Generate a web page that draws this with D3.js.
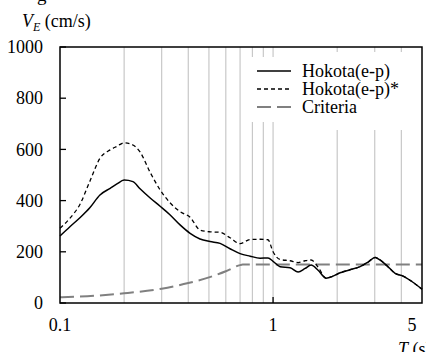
<!DOCTYPE html>
<html><head><meta charset="utf-8">
<script src="https://cdn.jsdelivr.net/npm/d3@7"></script>
<style>body{margin:0;background:#fff}svg{display:block}text{font-family:"Liberation Serif","Times New Roman",serif;fill:#000}</style>
</head><body>
<svg id="c" width="426" height="352"></svg>
<script>
// ---- data ----
const periods = [0.1,0.111,0.124,0.138,0.154,0.172,0.185,0.2,0.22,0.2375,0.265,0.295,0.328,0.366,0.408,0.454,0.506,0.564,0.628,0.70,0.78,0.869,0.947,1.0,1.079,1.202,1.311,1.414,1.508,1.627,1.774,1.913,2.063,2.299,2.562,2.793,3.012,3.179,3.429,3.739,4.077,4.495,5.0];
const hokota = [262,297,333,372,422,448,465,480,474,446,410,378,345,305,272,250,240,233,212,193,183,175,176,163,142,138,121,135,148,128,97,105,118,130,142,160,178,168,145,116,105,83,54];
const hokotaStar = [292,330,385,475,565,598,612,626,617,590,510,442,392,357,335,285,278,276,255,232,248,249,247,200,170,165,158,165,168,140,97,105,118,130,142,160,178,168,145,116,105,83,54];
const critT = [0.1,0.15,0.2,0.3,0.4,0.5,0.6,0.7,0.72,5.0];
const critV = [22,29,38,56,78,100,124,148,150,150];
const yTicks = [0,200,400,600,800,1000];
const xLabels = [{t:0.1,s:"0.1"},{t:1,s:"1"},{t:5,s:"5"}];
const gridT = [0.2,0.3,0.4,0.5,0.6,0.7,0.8,0.9,1,2,3,4];
const legendItems = [{name:"Hokota(e-p)",kind:"solid"},{name:"Hokota(e-p)*",kind:"dash"},{name:"Criteria",kind:"crit"}];

// ---- layout ----
const L=60,R=422,T=47,B=303;
const svg=d3.select("#c");
const x=d3.scaleLog().domain([0.1,5]).range([L,R]);
const y=d3.scaleLinear().domain([0,1000]).range([B,T]);

// partial caption at top
svg.append("text").attr("x",37).attr("y",1).attr("font-size",19).text("g");

// gridlines
svg.append("g").selectAll("line").data(gridT).join("line")
  .attr("x1",d=>x(d)).attr("x2",d=>x(d)).attr("y1",T).attr("y2",B)
  .attr("stroke","#c8c8c8").attr("stroke-width",1.2);

// legend background
svg.append("rect").attr("x",248).attr("y",57).attr("width",172).attr("height",65).attr("fill","#fff");
svg.append("rect").attr("x",330).attr("y",52).attr("width",90).attr("height",78).attr("fill","#fff");

// curves
const line=d3.line().x(d=>x(d[0])).y(d=>y(d[1])).curve(d3.curveMonotoneX);
svg.append("path").datum(critT.map((t,i)=>[t,critV[i]])).attr("d",line)
  .attr("fill","none").attr("stroke","#808080").attr("stroke-width",2).attr("stroke-dasharray","14,6");
svg.append("path").datum(periods.map((t,i)=>[t,hokotaStar[i]])).attr("d",line)
  .attr("fill","none").attr("stroke","#000").attr("stroke-width",1.3).attr("stroke-dasharray","4,3");
svg.append("path").datum(periods.map((t,i)=>[t,hokota[i]])).attr("d",line)
  .attr("fill","none").attr("stroke","#000").attr("stroke-width",1.5);

// frame
svg.append("rect").attr("x",L).attr("y",T).attr("width",R-L).attr("height",B-T)
  .attr("fill","none").attr("stroke","#000").attr("stroke-width",1.5);

// y axis ticks + labels
const ya=svg.append("g");
ya.selectAll("line").data(yTicks).join("line")
  .attr("x1",L).attr("x2",L+6).attr("y1",d=>y(d)).attr("y2",d=>y(d)).attr("stroke","#000").attr("stroke-width",1.3);
ya.selectAll("text").data(yTicks).join("text")
  .attr("x",43).attr("y",d=>y(d)).attr("dy","0.34em").attr("text-anchor","end").attr("font-size",18).text(d=>d);

// x major tick at 1
svg.append("line").attr("x1",x(1)).attr("x2",x(1)).attr("y1",B).attr("y2",B-6).attr("stroke","#000").attr("stroke-width",1.3);
svg.append("g").selectAll("text").data(xLabels).join("text")
  .attr("x",d=>d.t===5?412:x(d.t)).attr("y",331).attr("text-anchor","middle").attr("font-size",18).text(d=>d.s);

// axis titles
const yt=svg.append("text").attr("x",22).attr("y",27).attr("font-size",18);
yt.append("tspan").attr("font-style","italic").text("V");
yt.append("tspan").attr("font-style","italic").attr("font-size",12).attr("dy",4).text("E");
yt.append("tspan").attr("dy",-4).text(" (cm/s)");
const xt=svg.append("text").attr("x",398).attr("y",355).attr("font-size",18);
xt.append("tspan").attr("font-style","italic").text("T");
xt.append("tspan").text(" (s)");

// legend
const lg=svg.append("g");
legendItems.forEach((d,i)=>{
  const ly=71+i*18;
  const ln=lg.append("line").attr("x1",257).attr("x2",291).attr("y1",ly).attr("y2",ly);
  if(d.kind==="solid") ln.attr("stroke","#000").attr("stroke-width",1.5);
  if(d.kind==="dash") ln.attr("stroke","#000").attr("stroke-width",1.3).attr("stroke-dasharray","4,3");
  if(d.kind==="crit") ln.attr("stroke","#808080").attr("stroke-width",2).attr("stroke-dasharray","14,6");
  lg.append("text").attr("x",302).attr("y",ly+6).attr("font-size",18).text(d.name);
});
</script>
</body></html>
